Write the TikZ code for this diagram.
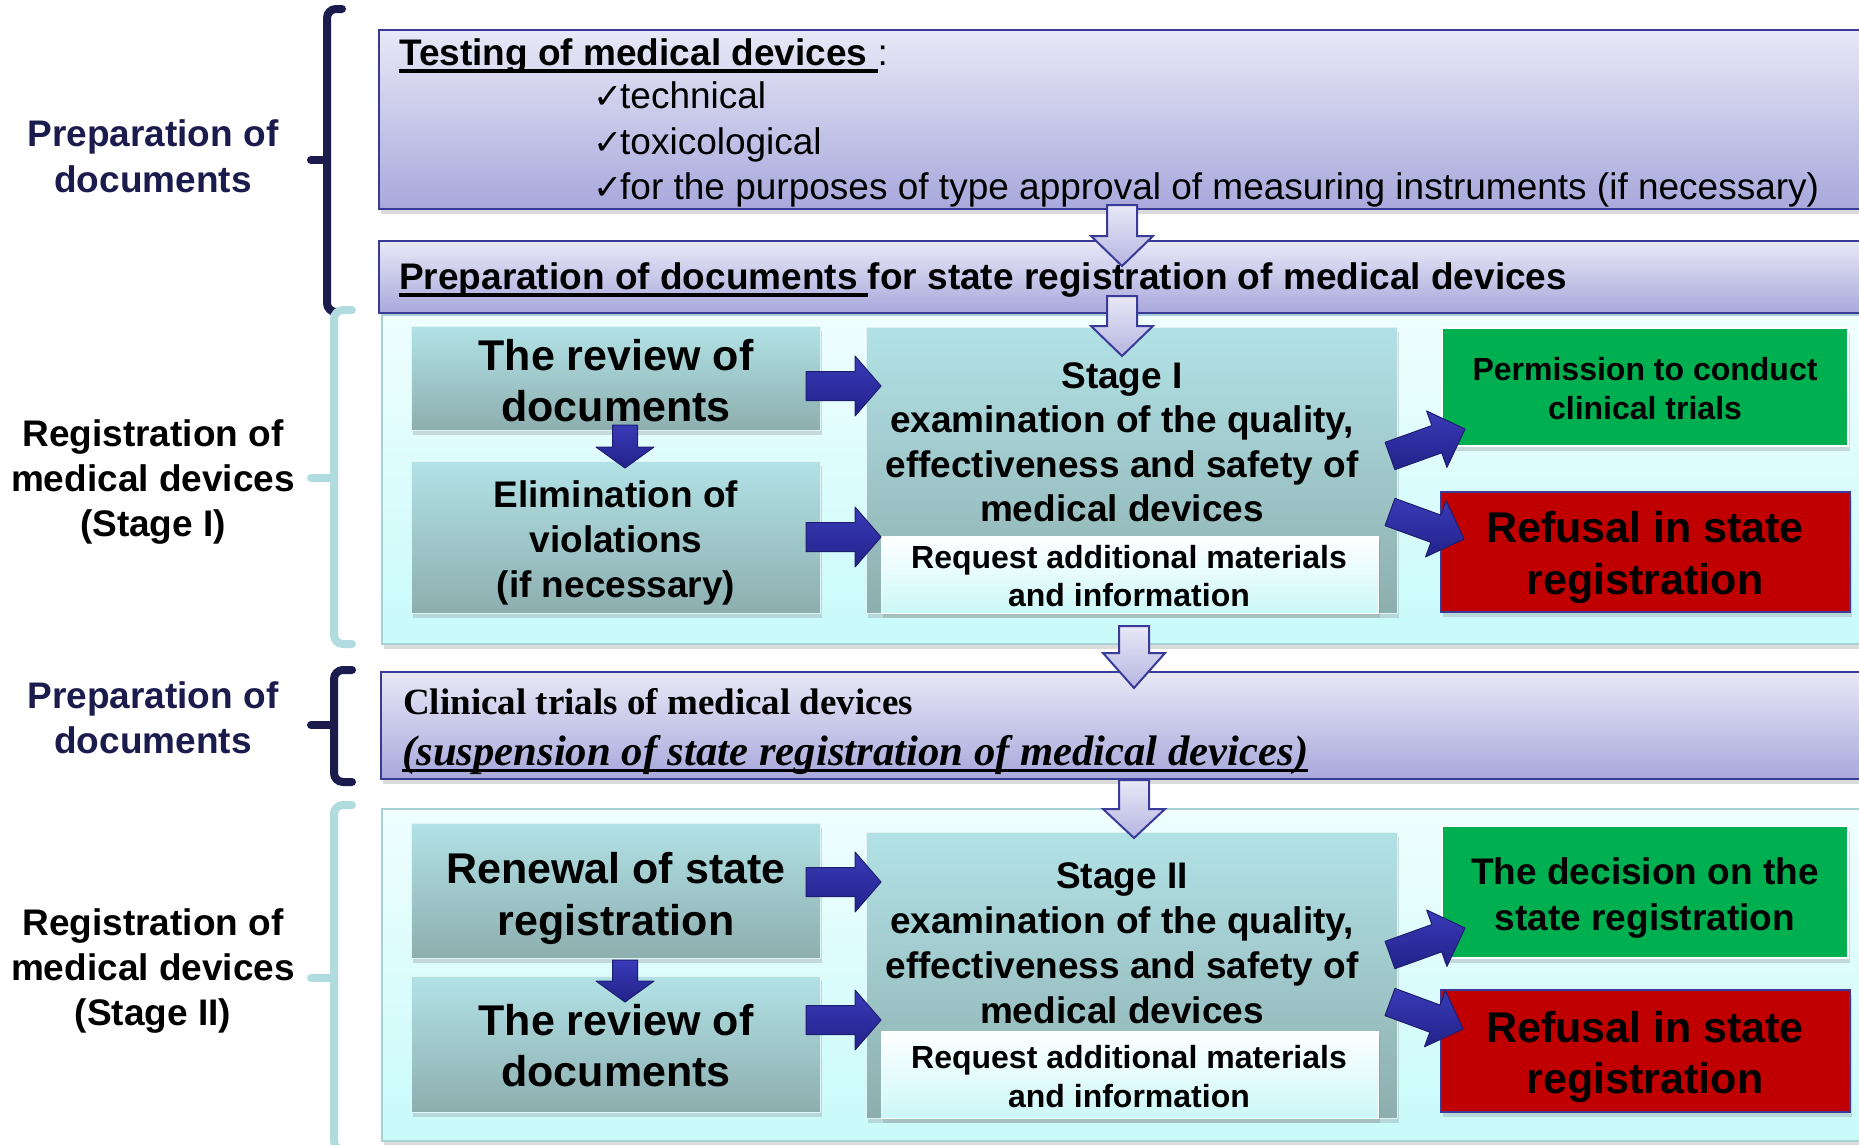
\documentclass[tikz,border=0pt]{standalone}
\usepackage{fontspec}
\setmainfont{Liberation Sans}
\newfontfamily\tnr{Liberation Serif}
\newfontfamily\djv{DejaVu Sans}
\usetikzlibrary{calc,shadows}

\definecolor{navy}{HTML}{1B1B4E}
\definecolor{lavtop}{HTML}{E8E8F7}
\definecolor{lavbot}{HTML}{A8A8DC}
\definecolor{lavline}{HTML}{3A3A98}
\definecolor{cyantop}{HTML}{F0FEFE}
\definecolor{cyanbot}{HTML}{C8FAFA}
\definecolor{cyanline}{HTML}{A6D2D6}
\definecolor{tealtop}{HTML}{B2E2E6}
\definecolor{tealbot}{HTML}{8DAEAF}
\definecolor{reqbot}{HTML}{CCF8F8}
\definecolor{grn}{HTML}{00B050}
\definecolor{rd}{HTML}{C00000}
\definecolor{arrhi}{HTML}{3A3AB8}
\definecolor{arrfill}{HTML}{22228A}
\definecolor{arrline}{HTML}{1E1E70}
\definecolor{tealbr}{HTML}{B0DCDF}

\newcommand{\fs}[2]{\fontsize{#1}{#2}\selectfont}
\newsavebox\ulbox
\newcommand{\myul}[3][-7.5pt]{\sbox\ulbox{#3}\rlap{\rule[#1]{\wd\ulbox}{#2}}\usebox\ulbox}
\newcommand{\boxnode}[6]{\node[bx,#2,anchor=north west,minimum width={(#5-#3)*1pt},minimum height={(#6-#4)*1pt}] (#1) at (#3,#4) {};}
\newcommand{\chk}{\makebox[27pt][l]{\djv\fs{35}{35}✓}}
% style, start, end, half shaft, half head, head length
\newcommand{\blockarrow}[6]{%
  \coordinate (bah) at ($(#3)!#6!(#2)$);
  \path[#1] ($(#2)!#4!90:(#3)$) -- ($(bah)!#4!90:(#3)$) -- ($(bah)!#5!90:(#3)$) -- (#3)
    -- ($(bah)!#5!-90:(#3)$) -- ($(bah)!#4!-90:(#3)$) -- ($(#2)!#4!-90:(#3)$) -- cycle;}

\begin{document}
\begin{tikzpicture}[x=1pt,y=-1pt,
  shad/.style={drop shadow={shadow xshift=2pt,shadow yshift=-5pt,opacity=.28}},
  bx/.style={inner sep=0pt,outer sep=0pt},
  lav/.style={draw=lavline,line width=2pt,top color=lavtop,bottom color=lavbot,shad},
  pan/.style={draw=cyanline,line width=2pt,top color=cyantop,bottom color=cyanbot,shad},
  teal/.style={draw=tealtop!40!white,line width=1pt,top color=tealtop,bottom color=tealbot,shad},
  reqb/.style={draw=white,line width=1pt,top color=white,bottom color=reqbot,shad},
  grnbox/.style={draw=white,line width=2pt,fill=grn,shad},
  redbox/.style={draw=lavline,line width=1.5pt,fill=rd,shad},
  txt/.style={font=\bfseries,align=center,inner sep=0pt},
  brk/.style={line width=8pt,rounded corners=9pt,line cap=round},
  harr/.style={draw=lavline,line width=2pt,line join=miter,top color=lavtop,bottom color=lavbot!85!white},
  darr/.style={draw=arrline,line width=1pt,line join=round,top color=arrhi,bottom color=arrfill}
]
\useasboundingbox (0,0) rectangle (1859,1144);
\clip (0,0) rectangle (1859,1144);
\fill[white] (0,0) rectangle (1859,1144);

% ---------- top boxes ----------
\boxnode{boxA}{lav}{379}{30}{1875}{209}
\node[anchor=base west,inner sep=0pt,font=\fs{37}{45}] (tA0) at (399,65)
  {\bfseries\myul{4pt}{Testing of medical devices }\mdseries:};
\node[anchor=base west,inner sep=0pt,font=\fs{37}{45}] (tA1) at (593,108)
  {\chk technical};
\node[anchor=base west,inner sep=0pt,font=\fs{37}{45}] (tA2) at (593,154)
  {\chk toxicological};
\node[anchor=base west,inner sep=0pt,font=\fs{37}{45}] (tA3) at (593,199)
  {\chk for the purposes of type approval of measuring instruments (if necessary)};

\boxnode{boxB}{lav}{379}{241}{1875}{313}
\node[anchor=base west,inner sep=0pt,font=\fs{37}{45}\bfseries] (tB) at (399,289)
  {\myul[-8pt]{4pt}{Preparation of documents }for state registration of medical devices};

% ---------- stage I panel ----------
\boxnode{pan1}{pan}{382}{315}{1875}{644}
\boxnode{rev1}{teal}{411}{326}{820}{430}
\boxnode{elim}{teal}{411}{461}{820}{613}
\boxnode{st1}{teal}{866}{327}{1397}{613}
\boxnode{req1}{reqb}{881}{536}{1378}{613}
\boxnode{grn1}{grnbox}{1442}{328}{1848}{446}
\boxnode{red1}{redbox}{1441}{492}{1850}{612}

\node[txt,font=\fs{43}{51}\bfseries] (trev1) at (616,380.5) {The review of\\documents};
\node[txt,font=\fs{37}{45}\bfseries] (telim) at (616,542.5) {Elimination of\\violations\\(if necessary)};
\node[txt,font=\fs{37}{44.5}\bfseries] (tst1) at (1122,442.5) {Stage I\\examination of the quality,\\effectiveness and safety of\\medical devices};
\node[txt,font=\fs{32}{38}\bfseries] (treq1) at (1129,576) {Request additional materials\\and information};
\node[txt,font=\fs{32}{39}\bfseries] (tgrn1) at (1645,388.5) {Permission to conduct\\clinical trials};
\node[txt,font=\fs{43}{52}\bfseries] (tred1) at (1645,557.5) {Refusal in state\\registration};

% ---------- clinical trials ----------
\boxnode{boxC}{lav}{381}{672}{1875}{779}
\node[anchor=base west,inner sep=0pt,font=\tnr\bfseries\fs{37}{45}] (tC1) at (403,714) {Clinical trials of medical devices};
\node[anchor=base west,inner sep=0pt,font=\tnr\bfseries\itshape\fs{42.7}{48}] (tC2) at (402,765)
  {\myul[-7pt]{3.5pt}{(suspension of state registration of medical devices)}};

% ---------- stage II panel ----------
\boxnode{pan2}{pan}{382}{809}{1875}{1141}
\boxnode{ren}{teal}{411}{823}{820}{958}
\boxnode{rev2}{teal}{411}{976}{820}{1112}
\boxnode{st2}{teal}{866}{832}{1397}{1118}
\boxnode{req2}{reqb}{881}{1031}{1378}{1118}
\boxnode{grn2}{grnbox}{1442}{826}{1848}{958}
\boxnode{red2}{redbox}{1441}{990}{1850}{1112}

\node[txt,font=\fs{43}{52}\bfseries] (tren) at (616,898.5) {Renewal of state\\registration};
\node[txt,font=\fs{43}{51}\bfseries] (trev2) at (616,1046) {The review of\\documents};
\node[txt,font=\fs{37}{45}\bfseries] (tst2) at (1122,943) {Stage II\\examination of the quality,\\effectiveness and safety of\\medical devices};
\node[txt,font=\fs{32}{39}\bfseries] (treq2) at (1129,1077) {Request additional materials\\and information};
\node[txt,font=\fs{37}{46}\bfseries] (tgrn2) at (1645,897.5) {The decision on the\\state registration};
\node[txt,font=\fs{43}{51}\bfseries] (tred2) at (1645,1057) {Refusal in state\\registration};

% ---------- left brackets and labels ----------
\draw[brk,navy] (342,9) -- (327,9) -- (327,312) -- (336,312);
\draw[brk,navy,rounded corners=0pt] (327,160) -- (311,160);
\draw[brk,tealbr] (352,310) -- (334,310) -- (334,644) -- (352,644);
\draw[brk,tealbr,rounded corners=0pt] (334,478) -- (311,478);
\draw[brk,navy] (352,670) -- (334,670) -- (334,782) -- (352,782);
\draw[brk,navy,rounded corners=0pt] (334,725) -- (311,725);
\draw[brk,tealbr] (352,805) -- (334,805) -- (334,1150) -- (352,1150);
\draw[brk,tealbr,rounded corners=0pt] (334,978) -- (311,978);

\node[txt,text=navy,font=\fs{37}{46}\bfseries] (lab1) at (153,156) {Preparation of\\documents};
\node[txt,font=\fs{37}{45}\bfseries] (lab2) at (153,482) {Registration of\\medical devices\\(Stage I)};
\node[txt,text=navy,font=\fs{37}{45}\bfseries] (lab3) at (153,718) {Preparation of\\documents};
\node[txt,font=\fs{37}{45}\bfseries] (lab4) at (153,971) {Registration of\\medical devices\\(Stage II)};

% ---------- arrows ----------
\coordinate (h1s) at (1122,205); \coordinate (h1e) at (1122,266);
\coordinate (h2s) at (1122,296); \coordinate (h2e) at (1122,356);
\coordinate (h3s) at (1134,626); \coordinate (h3e) at (1134,688);
\coordinate (h4s) at (1134,780); \coordinate (h4e) at (1134,838);
\blockarrow{harr}{h1s}{h1e}{15pt}{31pt}{30pt}
\blockarrow{harr}{h2s}{h2e}{15pt}{31pt}{30pt}
\blockarrow{harr}{h3s}{h3e}{15pt}{31pt}{35pt}
\blockarrow{harr}{h4s}{h4e}{15pt}{31pt}{29pt}

\coordinate (d1s) at (625,425); \coordinate (d1e) at (625,468);
\coordinate (d2s) at (625,960); \coordinate (d2e) at (625,1002);
\blockarrow{darr}{d1s}{d1e}{12.5pt}{29pt}{21pt}
\blockarrow{darr}{d2s}{d2e}{12.5pt}{29pt}{21pt}

\coordinate (r1s) at (806,386); \coordinate (r1e) at (881,386);
\coordinate (r2s) at (806,537); \coordinate (r2e) at (881,537);
\coordinate (r3s) at (806,882); \coordinate (r3e) at (881,882);
\coordinate (r4s) at (806,1020); \coordinate (r4e) at (881,1020);
\blockarrow{darr}{r1s}{r1e}{14.5pt}{30pt}{26pt}
\blockarrow{darr}{r2s}{r2e}{14.5pt}{30pt}{26pt}
\blockarrow{darr}{r3s}{r3e}{14.5pt}{30pt}{26pt}
\blockarrow{darr}{r4s}{r4e}{14.5pt}{30pt}{26pt}

\coordinate (g1s) at (1390,456); \coordinate (g1e) at (1465,429);
\coordinate (x1s) at (1390,512); \coordinate (x1e) at (1464,539);
\coordinate (g2s) at (1390,955); \coordinate (g2e) at (1465,928);
\coordinate (x2s) at (1390,1002); \coordinate (x2e) at (1463,1029);
\blockarrow{darr}{g1s}{g1e}{14.5pt}{30pt}{30pt}
\blockarrow{darr}{x1s}{x1e}{14.5pt}{30pt}{30pt}
\blockarrow{darr}{g2s}{g2e}{14.5pt}{30pt}{30pt}
\blockarrow{darr}{x2s}{x2e}{14.5pt}{30pt}{30pt}
\end{tikzpicture}
\end{document}
